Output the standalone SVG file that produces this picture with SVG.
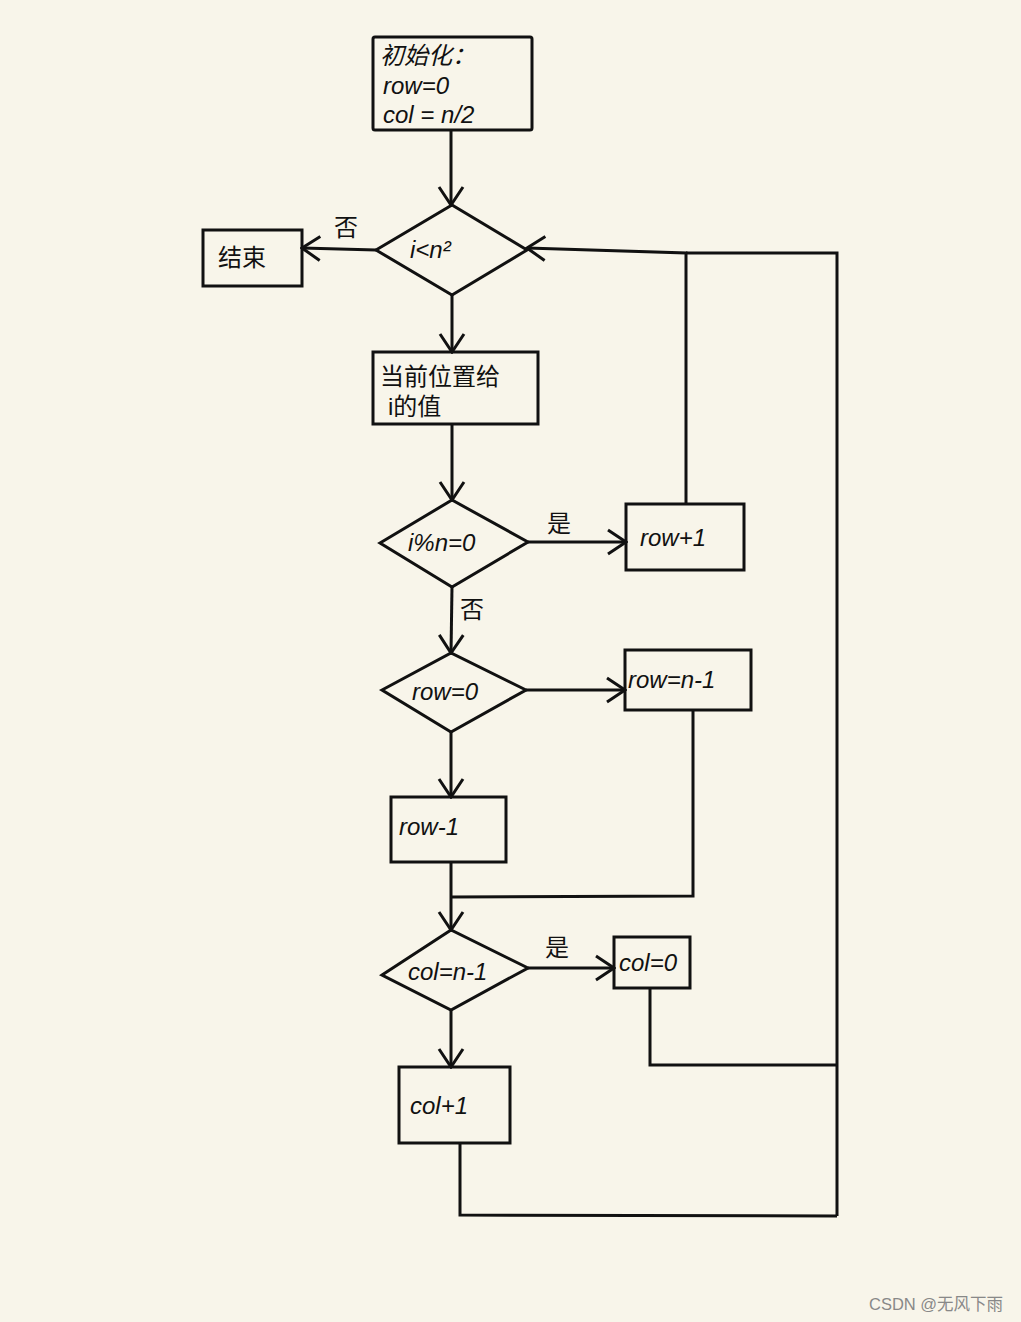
<svg xmlns="http://www.w3.org/2000/svg" width="1021" height="1322" viewBox="0 0 1021 1322">
<defs>
<marker id="arr" markerUnits="userSpaceOnUse" markerWidth="22" markerHeight="28" viewBox="0 0 22 28" refX="20" refY="14" orient="auto">
<path d="M2,2 L20,14 L2,26" fill="none" stroke="#111" stroke-width="3"/>
</marker>
</defs>
<style>
.bg{fill:#f8f5ea}
.box{fill:none;stroke:#111;stroke-width:3}
.ln{fill:none;stroke:#111;stroke-width:3}
.t{font-family:"Liberation Sans","Noto Sans CJK SC",sans-serif;font-size:24px;fill:#111;font-style:italic}
.c{font-family:"Liberation Sans","Noto Sans CJK SC",sans-serif;font-size:24px;fill:#111}
.wm{font-family:"Liberation Sans","Noto Sans CJK SC",sans-serif;font-size:16.5px;fill:#888}
</style>
<rect class="bg" x="0" y="0" width="1021" height="1322"/>
<g id="connectors">
<path class="ln" d="M451,130 L451,205" marker-end="url(#arr)"/>
<path class="ln" d="M376,250 L302,248" marker-end="url(#arr)"/>
<path class="ln" d="M452,295 L452,352" marker-end="url(#arr)"/>
<path class="ln" d="M452,424 L452,500" marker-end="url(#arr)"/>
<path class="ln" d="M528,542 L626,542" marker-end="url(#arr)"/>
<path class="ln" d="M686,504 L686,253 L527,248" marker-end="url(#arr)"/>
<path class="ln" d="M686,253 L837,253 L837,1216"/>
<path class="ln" d="M452,587 L451,653" marker-end="url(#arr)"/>
<path class="ln" d="M526,690 L625,690" marker-end="url(#arr)"/>
<path class="ln" d="M693,710 L693,896 L451,897"/>
<path class="ln" d="M451,732 L451,797" marker-end="url(#arr)"/>
<path class="ln" d="M451,862 L451,930" marker-end="url(#arr)"/>
<path class="ln" d="M528,968 L614,968" marker-end="url(#arr)"/>
<path class="ln" d="M650,988 L650,1065 L837,1065"/>
<path class="ln" d="M451,1010 L451,1067" marker-end="url(#arr)"/>
<path class="ln" d="M460,1143 L460,1215 L837,1216"/>
<text class="c" x="334" y="236">否</text>
<text class="c" x="460" y="618">否</text>
<text class="c" x="547" y="532">是</text>
<text class="c" x="545" y="956">是</text>
</g>
<g id="init">
<rect class="box" x="373" y="37" width="159" height="93" rx="2"/>
<text class="t" x="380" y="64">初始化：</text>
<text class="t" x="383" y="94">row=0</text>
<text class="t" x="383" y="123">col = n/2</text>
</g>
<g id="cond1">
<polygon class="box" points="376,250 452,205 527,250 452,295"/>
<text class="t" x="410" y="258" font-size="26">i&lt;n²</text>
</g>
<g id="end">
<rect class="box" x="203" y="230" width="99" height="56"/>
<text class="c" x="218" y="266">结束</text>
</g>
<g id="assign">
<rect class="box" x="373" y="352" width="165" height="72"/>
<text class="c" x="380" y="385">当前位置给</text>
<text class="c" x="388" y="415">i的值</text>
</g>
<g id="cond2">
<polygon class="box" points="380,543 452,500 528,542 452,587"/>
<text class="t" x="408" y="551">i%n=0</text>
</g>
<g id="rowinc">
<rect class="box" x="626" y="504" width="118" height="66"/>
<text class="t" x="640" y="546">row+1</text>
</g>
<g id="cond3">
<polygon class="box" points="382,690 451,653 526,690 451,732"/>
<text class="t" x="412" y="700">row=0</text>
</g>
<g id="rowset">
<rect class="box" x="625" y="650" width="126" height="60"/>
<text class="t" x="628" y="688">row=n-1</text>
</g>
<g id="rowdec">
<rect class="box" x="391" y="797" width="115" height="65"/>
<text class="t" x="399" y="835">row-1</text>
</g>
<g id="cond4">
<polygon class="box" points="382,975 451,930 528,968 451,1010"/>
<text class="t" x="408" y="980">col=n-1</text>
</g>
<g id="colset">
<rect class="box" x="614" y="937" width="76" height="51"/>
<text class="t" x="619" y="971">col=0</text>
</g>
<g id="colinc">
<rect class="box" x="399" y="1067" width="111" height="76"/>
<text class="t" x="410" y="1114">col+1</text>
</g>
<text class="wm" x="869" y="1310">CSDN @无风下雨</text>
</svg>
